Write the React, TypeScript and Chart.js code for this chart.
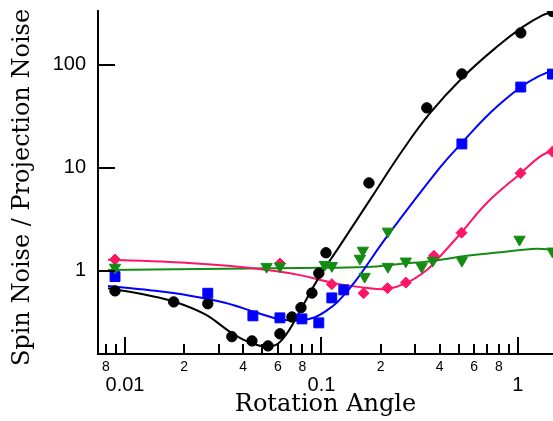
import { useEffect, useRef } from 'react';
import { Chart, registerables } from 'chart.js';

Chart.register(...registerables);

// ---- axis ticks ----
const xTickValues = [0.008, 0.009, 0.01, 0.02, 0.03, 0.04, 0.05, 0.06, 0.07, 0.08, 0.09, 0.1, 0.2, 0.3, 0.4, 0.5, 0.6, 0.7, 0.8, 0.9, 1];
const xTickLabels = ['8', '', '0.01', '2', '', '4', '', '6', '', '8', '', '0.1', '2', '', '4', '', '6', '', '8', '', '1'];
const xMajorTicks = [0.01, 0.1, 1];
const yTickValues = [1, 10, 100];
const yTickLabels = ['1', '10', '100'];

const xTitle = 'Rotation Angle';
const yTitle = 'Spin Noise / Projection Noise';

// ---- measured points ----
const blackX = [0.0089, 0.0177, 0.0264, 0.035, 0.0443, 0.0535, 0.0615, 0.0708, 0.0787, 0.0895, 0.097, 0.1055, 0.1746, 0.344, 0.519, 1.035, 1.5];
const blackY = [0.64, 0.5, 0.48, 0.23, 0.209, 0.187, 0.245, 0.357, 0.44, 0.61, 0.95, 1.5, 7.15, 38.3, 81.8, 205, 330];

const blueX = [0.0089, 0.0264, 0.0448, 0.0615, 0.0796, 0.097, 0.113, 0.13, 0.519, 1.035, 1.5];
const blueY = [0.88, 0.607, 0.366, 0.35, 0.342, 0.313, 0.547, 0.654, 17.1, 61, 81.5];

const pinkX = [0.0089, 0.0615, 0.113, 0.164, 0.217, 0.269, 0.374, 0.517, 1.032, 1.5];
const pinkY = [1.29, 1.18, 0.743, 0.607, 0.68, 0.77, 1.4, 2.35, 8.88, 14.4];

const greenX = [0.0089, 0.0526, 0.0615, 0.104, 0.113, 0.1625, 0.157, 0.166, 0.218, 0.218, 0.269, 0.324, 0.369, 0.519, 1.02, 1.5];
const greenY = [1.08, 1.1, 1.11, 1.15, 1.12, 1.58, 1.32, 0.88, 2.42, 1.1, 1.24, 1.1, 1.26, 1.26, 2.02, 1.55];

// ---- fitted curves ----
const blackFitX = [0.0082, 0.0134, 0.018, 0.0255, 0.0334, 0.04, 0.0475, 0.0535, 0.06, 0.068, 0.08, 0.098, 0.124, 0.1766, 0.26, 0.357, 0.525, 0.782, 1.06, 1.34, 1.51];
const blackFitY = [0.68, 0.575, 0.5, 0.38, 0.265, 0.215, 0.19, 0.184, 0.196, 0.26, 0.45, 0.89, 1.75, 4.89, 15, 34, 76, 150, 234, 305, 327];

const blueFitX = [0.0082, 0.0134, 0.0214, 0.0323, 0.0475, 0.0615, 0.0796, 0.0927, 0.104, 0.121, 0.148, 0.215, 0.4, 0.519, 0.72, 1.035, 1.25, 1.51];
const blueFitY = [0.715, 0.65, 0.575, 0.49, 0.39, 0.34, 0.332, 0.355, 0.4, 0.5, 0.782, 2.14, 10.0, 17.5, 34, 61, 76, 89];

const pinkFitX = [0.0082, 0.0169, 0.0334, 0.058, 0.0778, 0.1146, 0.171, 0.215, 0.272, 0.344, 0.4, 0.519, 0.695, 1.035, 1.29, 1.51];
const pinkFitY = [1.28, 1.22, 1.12, 1.0, 0.91, 0.765, 0.684, 0.669, 0.765, 1.02, 1.37, 2.39, 4.57, 8.9, 12.8, 15];

const greenFitX = [0.0082, 0.0241, 0.0778, 0.171, 0.251, 0.369, 0.55, 0.84, 1.25, 1.51];
const greenFitY = [1.02, 1.045, 1.07, 1.09, 1.17, 1.25, 1.4, 1.53, 1.64, 1.6];

const BLACK = '#000000';
const BLUE = '#0000ff';
const PINK = '#ff1466';
const GREEN = '#148c14';

const toXY = (xs: number[], ys: number[]) => xs.map((x, i) => ({ x, y: ys[i] }));

const inwardTicks = {
  id: 'inwardTicks',
  afterDraw(chart: any) {
    const { ctx, chartArea } = chart;
    const xs = chart.scales.x;
    const ys = chart.scales.y;
    ctx.save();
    ctx.strokeStyle = '#000';
    ctx.lineWidth = 2;
    xTickValues.forEach((v) => {
      const px = Math.round(xs.getPixelForValue(v));
      const len = xMajorTicks.includes(v) ? 17 : 10;
      ctx.beginPath();
      ctx.moveTo(px, chartArea.bottom);
      ctx.lineTo(px, chartArea.bottom - len);
      ctx.stroke();
    });
    yTickValues.forEach((v) => {
      const py = Math.round(ys.getPixelForValue(v));
      ctx.beginPath();
      ctx.moveTo(chartArea.left, py);
      ctx.lineTo(chartArea.left + 17, py);
      ctx.stroke();
    });
    // y-axis title (drawn here so it is not squeezed to the axis height)
    ctx.translate(22.4, (chartArea.top + chartArea.bottom) / 2 + 5);
    ctx.rotate(-Math.PI / 2);
    ctx.fillStyle = '#000';
    ctx.font = '24px "DejaVu Serif", serif';
    ctx.textAlign = 'center';
    ctx.textBaseline = 'middle';
    ctx.fillText(yTitle, 0, 0);
    ctx.restore();
  },
};

export default function App() {
  const ref = useRef<HTMLCanvasElement | null>(null);

  useEffect(() => {
    if (!ref.current) return;
    const pointDs = (label: string, xs: number[], ys: number[], color: string, style: any, radius: number, rotation = 0) => ({
      label,
      data: toXY(xs, ys),
      showLine: false,
      pointStyle: style,
      pointRadius: radius,
      pointRotation: rotation,
      pointBackgroundColor: color,
      pointBorderColor: color,
      pointBorderWidth: 1,
      order: 0,
    });
    const lineDs = (label: string, xs: number[], ys: number[], color: string) => ({
      label,
      data: toXY(xs, ys),
      showLine: true,
      borderColor: color,
      borderWidth: 2,
      pointRadius: 0,
      tension: 0.4,
      fill: false,
      order: 1,
    });

    const chart = new Chart(ref.current, {
      type: 'scatter',
      data: {
        datasets: [
          lineDs('black fit', blackFitX, blackFitY, BLACK),
          lineDs('blue fit', blueFitX, blueFitY, BLUE),
          lineDs('pink fit', pinkFitX, pinkFitY, PINK),
          lineDs('green fit', greenFitX, greenFitY, GREEN),
          pointDs('green', greenX, greenY, GREEN, 'triangle', 6.5, 180),
          pointDs('pink', pinkX, pinkY, PINK, 'rectRot', 5.5),
          pointDs('blue', blueX, blueY, BLUE, 'rect', 7),
          pointDs('black', blackX, blackY, BLACK, 'circle', 5.2),
        ] as any,
      },
      options: {
        responsive: false,
        animation: false,
        layout: { autoPadding: false, padding: { top: 11, right: 0, bottom: 0, left: 0 } },
        plugins: { legend: { display: false }, tooltip: { enabled: false } },
        scales: {
          x: {
            type: 'logarithmic',
            min: 0.00729,
            max: 1.51,
            afterBuildTicks: (scale: any) => {
              scale.ticks = xTickValues.map((v) => ({ value: v }));
            },
            afterFit: (scale: any) => {
              scale.height = 67;
              scale.paddingLeft = 0;
              scale.paddingRight = 0;
            },
            grid: { display: true, drawOnChartArea: false, drawTicks: false },
            border: { display: true, color: '#000', width: 2 },
            ticks: {
              autoSkip: false,
              maxRotation: 0,
              minRotation: 0,
              padding: 5,
              color: '#000',
              callback: (_v: any, i: number) => xTickLabels[i],
              font: (ctx: any) =>
                ctx.tick && xMajorTicks.includes(ctx.tick.value)
                  ? { family: '"Liberation Sans", Arial, sans-serif', size: 20, lineHeight: 2.65 }
                  : { family: '"Liberation Sans", Arial, sans-serif', size: 14, lineHeight: 1.2 },
            },
            title: {
              display: true,
              text: xTitle,
              color: '#000',
              font: { family: '"DejaVu Serif", serif', size: 24 },
              padding: { top: 0, bottom: 2 },
            },
          },
          y: {
            type: 'logarithmic',
            min: 0.156,
            max: 334,
            afterBuildTicks: (scale: any) => {
              scale.ticks = yTickValues.map((v) => ({ value: v }));
            },
            afterFit: (scale: any) => {
              scale.width = 98;
              scale.paddingTop = 0;
              scale.paddingBottom = 0;
            },
            grid: { display: true, drawOnChartArea: false, drawTicks: false },
            border: { display: true, color: '#000', width: 2 },
            ticks: {
              autoSkip: false,
              padding: 12,
              color: '#000',
              callback: (_v: any, i: number) => yTickLabels[i],
              font: { family: '"Liberation Sans", Arial, sans-serif', size: 20, lineHeight: 1.0 },
            },
            title: { display: false },
          },
        },
      },
      plugins: [inwardTicks],
    } as any);
    return () => chart.destroy();
  }, []);

  return (
    <div style={{ position: 'absolute', left: 0, top: 0, width: 553, height: 421, background: '#fff' }}>
      <canvas ref={ref} width={553} height={421} style={{ display: 'block' }} />
    </div>
  );
}
